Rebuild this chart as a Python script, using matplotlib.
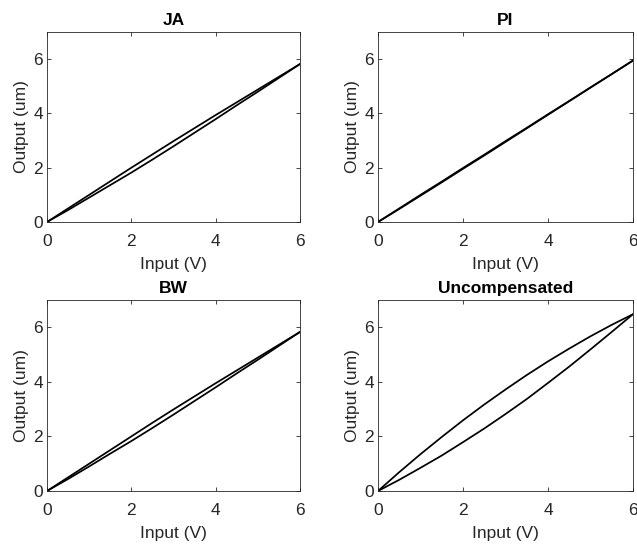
import matplotlib
matplotlib.use("Agg")
import matplotlib.pyplot as plt

plt.rcParams['font.family'] = ['Liberation Sans', 'DejaVu Sans']

# Data
x_grid = [0, 0.5, 1, 1.5, 2, 2.5, 3, 3.5, 4, 4.5, 5, 5.5, 6]

ja_lower = [0, 0.44, 0.90, 1.36, 1.82, 2.30, 2.79, 3.29, 3.79, 4.30, 4.80, 5.31, 5.82]
ja_upper = [0, 0.50, 1.00, 1.50, 2.00, 2.49, 2.98, 3.46, 3.94, 4.41, 4.88, 5.35, 5.82]

pi_lower = [0, 0.48, 0.97, 1.46, 1.96, 2.45, 2.95, 3.45, 3.95, 4.45, 4.95, 5.45, 5.95]
pi_upper = [0, 0.50, 1.00, 1.49, 1.99, 2.48, 2.98, 3.47, 3.97, 4.46, 4.96, 5.45, 5.95]

bw_lower = [0, 0.44, 0.90, 1.37, 1.83, 2.31, 2.80, 3.30, 3.80, 4.31, 4.81, 5.32, 5.83]
bw_upper = [0, 0.50, 1.00, 1.50, 2.00, 2.50, 2.99, 3.47, 3.95, 4.42, 4.89, 5.36, 5.83]

un_lower = [0, 0.41, 0.85, 1.30, 1.79, 2.29, 2.82, 3.37, 3.96, 4.56, 5.19, 5.83, 6.48]
un_upper = [0, 0.69, 1.35, 1.98, 2.59, 3.17, 3.72, 4.25, 4.75, 5.22, 5.67, 6.09, 6.48]

titles = ['JA', 'PI', 'BW', 'Uncompensated']
xticks = [0, 2, 4, 6]
yticks = [0, 2, 4, 6]

panels = [
    (ja_lower, ja_upper),
    (pi_lower, pi_upper),
    (bw_lower, bw_upper),
    (un_lower, un_upper),
]

W, H = 637, 544
fig = plt.figure(figsize=(W / 100, H / 100), dpi=100)

# axes rectangles in pixels: (left, top, right, bottom)
rects = [(47, 32, 300, 222), (378, 32, 633, 222),
         (47, 300, 300, 491), (378, 300, 633, 491)]

gray = '#262626'
for (l, t, r, b), title, (lo, up) in zip(rects, titles, panels):
    ax = fig.add_axes([l / W, 1 - b / H, (r - l) / W, (b - t) / H])
    ax.plot(x_grid, lo, color='black', lw=1.25, solid_joinstyle='round')
    ax.plot(x_grid[::-1], up[::-1], color='black', lw=1.25, solid_joinstyle='round')
    ax.set_xlim(0, 6)
    ax.set_ylim(0, 7)
    ax.set_xticks(xticks)
    ax.set_yticks(yticks)
    ax.tick_params(axis='both', direction='in', length=3, width=0.6, top=True, right=True,
                   labelsize=12.5, colors=gray, labelcolor=gray)
    ax.tick_params(axis='x', pad=8.5)
    ax.tick_params(axis='y', pad=3)
    for s in ax.spines.values():
        s.set_color(gray)
        s.set_linewidth(0.6)
    ax.set_xlabel('Input (V)', fontsize=12.5, color=gray, labelpad=6)
    ax.set_ylabel('Output (um)', fontsize=12.5, color=gray, labelpad=3)
    ax.set_title(title, fontsize=12.5, fontweight='bold', color='black', pad=5)

fig.savefig('out.png', dpi=100)
